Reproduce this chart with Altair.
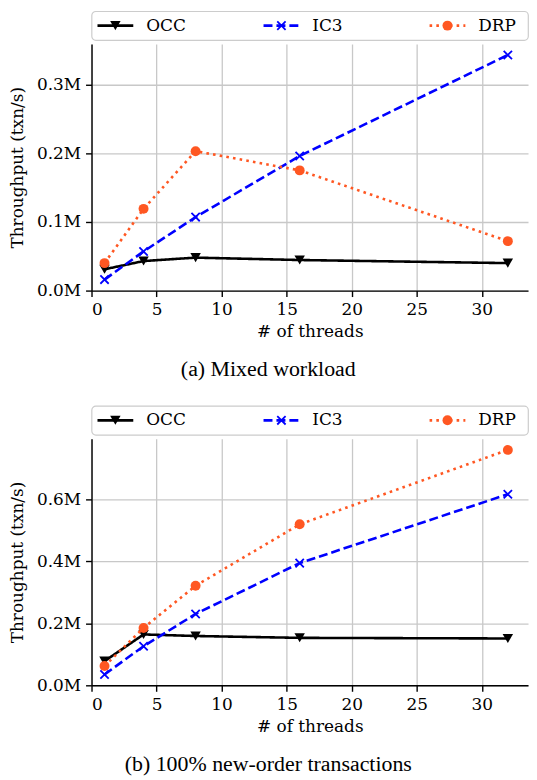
import altair as alt
import pandas as pd

threads = [1, 4, 8, 16, 32]
series = ["OCC", "IC3", "DRP"]

mixed_occ = [31000, 43000, 48000, 44500, 40000]
mixed_ic3 = [16000, 57000, 107000, 196000, 343000]
mixed_drp = [40000, 119000, 203000, 175000, 72000]

neworder_occ = [78000, 164000, 159000, 153000, 151000]
neworder_ic3 = [35000, 126000, 230000, 394000, 616000]
neworder_drp = [62000, 185000, 321000, 519000, 759000]

x_ticks = [0, 5, 10, 15, 20, 25, 30]
mixed_y_ticks = [0, 100000, 200000, 300000]
neworder_y_ticks = [0, 200000, 400000, 600000]

captions = ["(a) Mixed workload", "(b) 100% new-order transactions"]

STYLE = {
    "OCC": dict(color="#000000", dash=[1, 0], shape="triangle-down", filled=True, size=110, sw=0),
    "IC3": dict(color="#0000ff", dash=[9, 4], shape="M-1,-1L1,1M-1,1L1,-1", filled=False, size=70, sw=1.8),
    "DRP": dict(color="#ff5722", dash=[2.6, 4.2], shape="circle", filled=True, size=100, sw=0),
}

W = 439
H = 248
LEG_H = 29
FONT = "DejaVu Serif"


def panel(values_by_series, ymax, yticks, caption):
    xs = alt.X("threads:Q",
               scale=alt.Scale(domain=[0, 33.55], nice=False, zero=False),
               axis=alt.Axis(values=x_ticks, title="# of threads", format="d"))
    ys = alt.Y("tput:Q",
               scale=alt.Scale(domain=[0, ymax], nice=False),
               axis=alt.Axis(values=yticks, title="Throughput (txn/s)",
                             labelExpr="format(datum.value / 1000000, '.1f') + 'M'"))
    layers = []
    for s in series:
        st = STYLE[s]
        df = pd.DataFrame({"threads": threads, "tput": values_by_series[s], "series": s})
        base = alt.Chart(df)
        line = base.mark_line(color=st["color"], strokeDash=st["dash"], strokeWidth=2.6).encode(x=xs, y=ys)
        if st["filled"]:
            pt = base.mark_point(shape=st["shape"], filled=True, fill=st["color"], size=st["size"],
                                 opacity=1, strokeWidth=0).encode(x=xs, y=ys)
        else:
            pt = base.mark_point(shape=st["shape"], filled=False, stroke=st["color"], size=st["size"],
                                 opacity=1, strokeWidth=st["sw"]).encode(x=xs, y=ys)
        layers += [line, pt]
    return alt.layer(*layers).properties(
        width=W, height=H,
        title=alt.TitleParams(caption, orient="bottom", anchor="middle", frame="bounds",
                              font="Liberation Serif", fontSize=22, fontWeight="normal",
                              color="#000000", offset=20),
        view=alt.ViewBackground(stroke=None),
    )


def legend():
    ldf = pd.DataFrame({"series": series})
    order = "[" + ",".join("'%s'" % s for s in series) + "]"
    xl = alt.X("idx:Q", scale=alt.Scale(domain=[0, len(series) - 1], range=[24, 358], nice=False, zero=False),
               axis=None)
    layers = []
    for s in series:
        st = STYLE[s]
        base = alt.Chart(ldf).transform_calculate(
            idx="indexof(" + order + ", datum.series)"
        ).transform_filter(alt.datum.series == s)
        rule = base.mark_rule(color=st["color"], strokeDash=st["dash"], strokeWidth=2.6,
                              xOffset=-18, x2Offset=18).encode(
            x=xl, x2="idx:Q", y=alt.value(LEG_H / 2))
        if st["filled"]:
            pt = base.mark_point(shape=st["shape"], filled=True, fill=st["color"], size=st["size"],
                                 opacity=1, strokeWidth=0).encode(x=xl, y=alt.value(LEG_H / 2))
        else:
            pt = base.mark_point(shape=st["shape"], filled=False, stroke=st["color"], size=st["size"],
                                 opacity=1, strokeWidth=st["sw"]).encode(x=xl, y=alt.value(LEG_H / 2))
        txt = base.mark_text(align="left", baseline="middle", dx=31, font=FONT, fontSize=17,
                             color="#000000").encode(x=xl, y=alt.value(LEG_H / 2), text="series:N")
        layers += [rule, pt, txt]
    return alt.layer(*layers).properties(
        width=W, height=LEG_H,
        view=alt.ViewBackground(stroke="#cccccc", strokeWidth=1.2, cornerRadius=4, fill="white"),
    )


top = alt.vconcat(
    legend(),
    panel({"OCC": mixed_occ, "IC3": mixed_ic3, "DRP": mixed_drp}, 359000, mixed_y_ticks, captions[0]),
    spacing=3,
)
bottom = alt.vconcat(
    legend(),
    panel({"OCC": neworder_occ, "IC3": neworder_ic3, "DRP": neworder_drp}, 795000, neworder_y_ticks, captions[1]),
    spacing=3,
)

chart = alt.vconcat(top, bottom, spacing=25).properties(
    padding={"left": 0, "top": 0, "right": 0, "bottom": 0}
).configure_view(stroke=None).configure_axis(
    labelFont=FONT, titleFont=FONT, labelFontSize=17, titleFontSize=17,
    labelColor="#000000", titleColor="#000000", titleFontWeight="normal",
    domainColor="#000000", domainWidth=1.4, tickColor="#000000", tickWidth=1.4, tickSize=6,
    labelPadding=5, gridColor="#c8c8c8", gridWidth=1.3, grid=True,
).configure_axisX(titlePadding=6).configure_axisY(titlePadding=10).configure_scale(
    zero=False
)

chart.save("out.html", embed_options={"renderer": "svg", "actions": False})
